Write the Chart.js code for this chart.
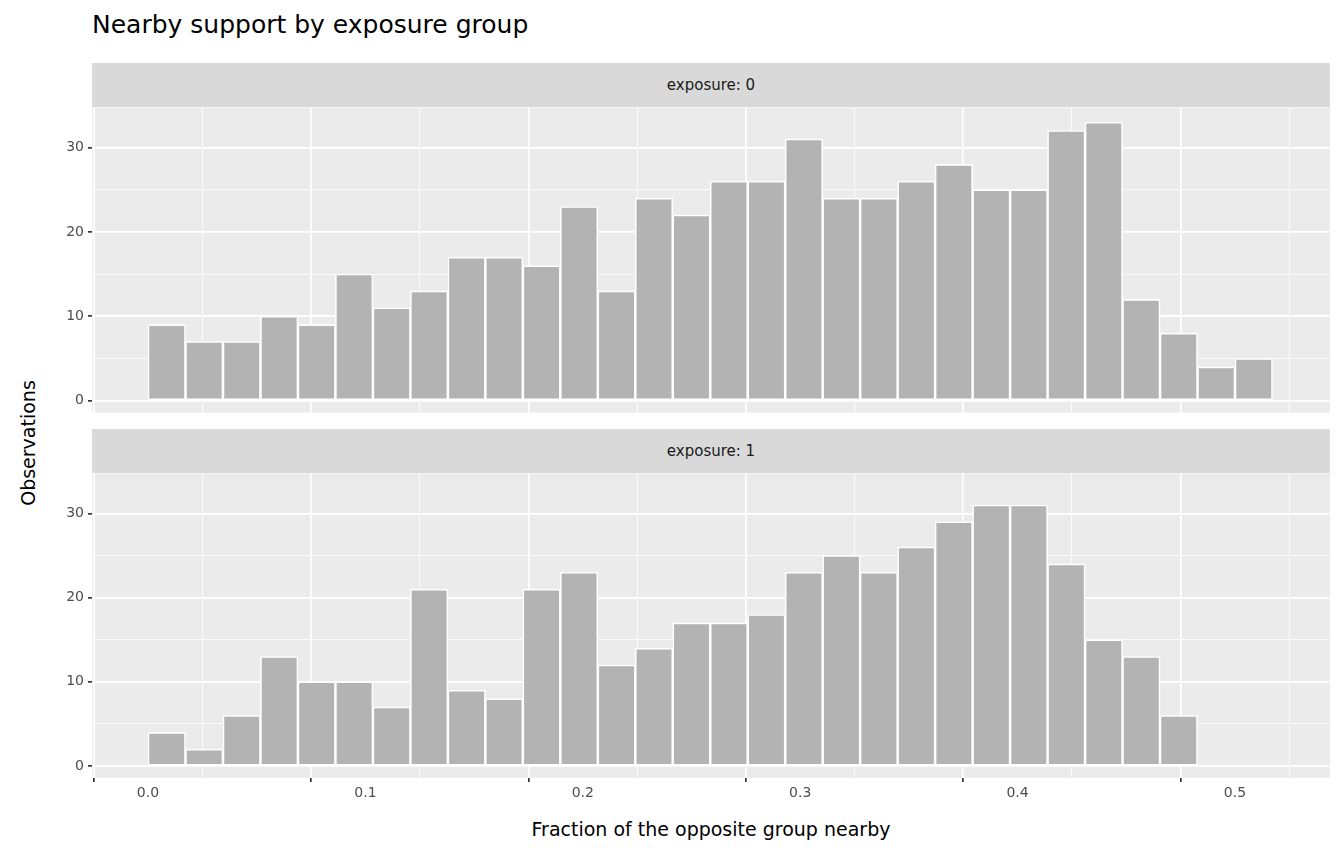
<!DOCTYPE html>
<html><head><meta charset="utf-8">
<script src="https://cdn.jsdelivr.net/npm/chart.js@4"></script>
<style>
body{margin:0;width:1344px;height:864px;background:#fff;font-family:"DejaVu Sans",sans-serif;position:relative;overflow:hidden}
.abs{position:absolute}
.strip{position:absolute;left:92px;width:1238px;height:44px;background:#D9D9D9;color:#1A1A1A;font-size:15px;line-height:44px;text-align:center;z-index:2}
</style></head><body>
<div class="abs" style="left:92px;top:10px;font-size:25px;color:#000">Nearby support by exposure group</div>
<div class="strip" style="top:63px">exposure: 0</div>
<div class="strip" style="top:429px">exposure: 1</div>
<div class="abs" style="left:92px;width:1238px;top:818px;text-align:center;font-size:19px;color:#000">Fraction of the opposite group nearby</div>
<div class="abs" style="left:28px;top:443px;font-size:19px;color:#000;transform:translate(-50%,-50%) rotate(-90deg);white-space:nowrap">Observations</div>
<div class="abs" style="left:0;top:95px;width:1344px;height:330px"><canvas id="c0"></canvas></div>
<div class="abs" style="left:0;top:461px;width:1344px;height:352px"><canvas id="c1"></canvas></div>
<script>
const binWidth = 0.5/29;
const counts0 = [9,7,7,10,9,15,11,13,17,17,16,23,13,24,22,26,26,31,24,24,26,28,25,25,32,33,12,8,4,5];
const counts1 = [4,2,6,13,10,10,7,21,9,8,21,23,12,14,17,17,18,23,25,23,26,29,31,31,24,15,13,6,0,0];
const xTicks = [0,0.1,0.2,0.3,0.4,0.5];
const yTicks = [0,10,20,30];

const bg = {id:'bg',beforeDraw(c){const a=c.chartArea,x=c.ctx;x.save();x.fillStyle='#EBEBEB';x.fillRect(a.left,a.top,a.right-a.left,a.bottom-a.top);x.restore();}};
function isMajor(v,step){return Math.abs(v/step-Math.round(v/step))<1e-6;}
function tv(c){return c.tick?c.tick.value:NaN;}
function make(id,counts,showX){
  const data = counts.map((v,i)=>({x:(i+0.5)*binWidth,y:v}));
  new Chart(document.getElementById(id),{
    type:'bar',
    data:{datasets:[{data,backgroundColor:'#B3B3B3',borderColor:'#FFFFFF',borderWidth:1.6,barPercentage:1,categoryPercentage:1,borderSkipped:false}]},
    options:{responsive:true,maintainAspectRatio:false,animation:false,devicePixelRatio:1,
      layout:{padding:{left:0,right:14,top:0,bottom:0}},
      plugins:{legend:{display:false},tooltip:{enabled:false}},
      scales:{
        x:{type:'linear',min:-0.02576,max:0.5437,offset:false,
          afterBuildTicks(s){s.ticks=[];for(let v=0;v<=0.5001;v+=0.05)s.ticks.push({value:+v.toFixed(2)});},
          afterFit(s){s.height=showX?35:0;},
          grid:{color:'#FFFFFF',lineWidth:c=>isMajor(tv(c),0.1)?1.7:0.8,drawTicks:showX,tickLength:4,tickColor:c=>isMajor(tv(c),0.1)?'#333333':'rgba(0,0,0,0)'},
          border:{display:false},
          ticks:{display:showX,autoSkip:false,maxRotation:0,padding:3,color:'#4D4D4D',font:{size:14,family:'DejaVu Sans'},
            callback:v=>isMajor(v,0.1)?v.toFixed(1):''}},
        y:{min:-1.42,max:34.75,
          afterBuildTicks(s){s.ticks=[0,5,10,15,20,25,30].map(v=>({value:v}));},
          afterFit(s){s.width=92;},
          grid:{color:'#FFFFFF',lineWidth:c=>tv(c)%10===0?1.7:0.8,tickLength:4,tickColor:c=>tv(c)%10===0?'#333333':'rgba(0,0,0,0)'},
          border:{display:false},
          ticks:{autoSkip:false,padding:4,color:'#4D4D4D',font:{size:14,family:'DejaVu Sans'},callback:v=>v%10===0?String(v):''}}
      }},
    plugins:[bg]});
}
make('c0',counts0,false);
make('c1',counts1,true);
</script></body></html>
